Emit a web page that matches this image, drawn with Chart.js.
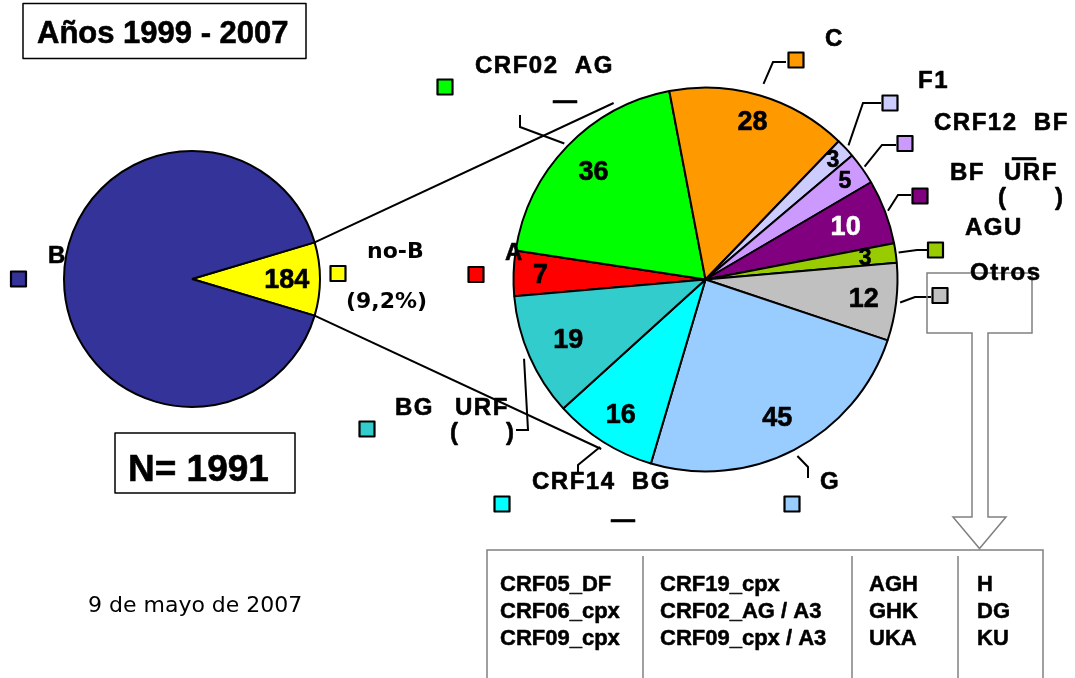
<!DOCTYPE html>
<html><head><meta charset="utf-8">
<script src="https://cdn.jsdelivr.net/npm/chart.js@4.4.1/dist/chart.umd.min.js"></script>
<style>
html,body{margin:0;padding:0;background:#fff;}
#wrap{position:relative;width:1075px;height:678px;overflow:hidden;background:#fff;}
#wrap canvas{position:absolute;left:0;top:0;}
</style></head><body>
<div id="wrap"><canvas id="left" width="1075" height="678"></canvas><canvas id="right" width="1075" height="678"></canvas></div>
<script>
// ---------- data ----------
const leftLabels = ['no-B', 'B'];
const leftValues = [184, 1807];
const rightLabels = ['A', 'CRF02_AG', 'C', 'F1', 'CRF12_BF', 'BF (URF)', 'AGU', 'Otros', 'G', 'CRF14_BG', 'BG (URF)'];
const rightValues = [7, 36, 28, 3, 5, 10, 3, 12, 45, 16, 19];
const otrosCol1 = ['CRF05_DF', 'CRF06_cpx', 'CRF09_cpx'];
const otrosCol2 = ['CRF19_cpx', 'CRF02_AG / A3', 'CRF09_cpx / A3'];
const otrosCol3 = ['AGH', 'GHK', 'UKA'];
const otrosCol4 = ['H', 'DG', 'KU'];
const titleText = 'Años 1999 - 2007';
const totalText = 'N= 1991';
const dateText = '9 de mayo de 2007';
const noBPercent = '(9,2%)';

// ---------- styles / layout ----------
const leftColors = ['#FFFF00', '#333399'];
const rightColors = ['#FF0000', '#00FF00', '#FF9900', '#CCCCFF', '#CC99FF', '#800080', '#99CC00', '#C0C0C0', '#99CCFF', '#00FFFF', '#33CCCC'];
const AR = '"Liberation Sans", Arial, sans-serif';
const VE = '"DejaVu Sans", Verdana, sans-serif';
const valFrac = [0.86, 0.81, 0.86, 0.91, 0.89, 0.78, 0.84, 0.83, 0.81, 0.83, 0.78];
const valSize = [27, 27, 27, 23, 23, 27, 23, 27, 27, 27, 27];
const valColor = ['#000', '#000', '#000', '#000', '#000', '#fff', '#000', '#000', '#000', '#000', '#000'];
const sqPos = [[476, 274.5], [445, 87], [796, 60], [890, 103], [905, 143.5], [920, 196], [935.5, 250], [940, 295.5], [792, 504], [502, 504], [367, 429]];
const leaders = [null,
  {d: 4, pts: [[520, 127], [520, 115]]},
  {d: 12, pts: [[773, 62], [786, 62]]},
  {d: 4, pts: [[863, 103], [881, 103]]},
  {d: 3, pts: [[882, 145], [896, 145]]},
  {d: 3, pts: [[898, 195], [911, 195]]},
  {d: 3, pts: [[917, 250], [927, 250]]},
  {d: 4, pts: [[915, 297], [931, 297]]},
  {d: 7, pts: [[808, 467], [808, 478]]},
  {d: 6, pts: [[578, 465], [578, 473]]},
  {d: 6, pts: [[528, 430], [516, 430]]}
];
const labelPieces = [
  ['A', 505, 260], ['CRF02  AG', 475, 73], ['—', 553, 108], ['C', 825, 46], ['F1', 918, 87.5],
  ['CRF12  BF', 934, 129.5], ['BF', 950, 180], ['URF', 1004, 180], ['—', 1012, 165], ['(', 998, 205], [')', 1055, 205],
  ['AGU', 965, 235], ['Otros', 970, 280], ['G', 820, 489], ['CRF14  BG', 532, 489], ['—', 611, 526.5],
  ['BG', 395, 415], ['URF', 455, 415], ['(', 450, 440], [')', 506, 440]
];
const connAngles = [332.5, 211.6];

function sq(ctx, cx, cy, color) {
  ctx.fillStyle = color; ctx.fillRect(cx - 7.5, cy - 7.5, 15, 15);
  ctx.strokeStyle = '#000'; ctx.lineWidth = 2.2; ctx.strokeRect(cx - 7.5, cy - 7.5, 15, 15);
}
function mid(a) { return (a.startAngle + a.endAngle) / 2; }
function heavy(ctx, t, x, y, w) {
  ctx.lineWidth = w; ctx.strokeStyle = ctx.fillStyle; ctx.lineJoin = 'round';
  ctx.strokeText(t, x, y); ctx.fillText(t, x, y);
}

let leftChart;

const leftPlugin = {
  id: 'leftDeco',
  afterDatasetsDraw(chart) {
    const ctx = chart.ctx; const arc = chart.getDatasetMeta(0).data[0];
    const m = mid(arc), r = arc.outerRadius * 0.74;
    ctx.save();
    ctx.font = 'bold 27px ' + AR; ctx.fillStyle = '#000'; ctx.textAlign = 'center'; ctx.textBaseline = 'middle';
    heavy(ctx, String(leftValues[0]), arc.x + r * Math.cos(m), arc.y + r * Math.sin(m) + 2, 0.6);
    ctx.restore();
  }
};

const rightPlugin = {
  id: 'rightDeco',
  beforeDatasetsDraw(chart) {
    const ctx = chart.ctx; const la = leftChart.getDatasetMeta(0).data[0];
    const ra = chart.getDatasetMeta(0).data[0];
    const R = ra.outerRadius + 7;
    const corners = [la.startAngle, la.endAngle];
    ctx.save(); ctx.strokeStyle = '#000'; ctx.lineWidth = 2;
    corners.forEach((a, i) => {
      const x0 = la.x + la.outerRadius * Math.cos(a), y0 = la.y + la.outerRadius * Math.sin(a);
      const t = (connAngles[i] - 90) * Math.PI / 180;
      ctx.beginPath(); ctx.moveTo(x0, y0); ctx.lineTo(ra.x + R * Math.cos(t), ra.y + R * Math.sin(t)); ctx.stroke();
    });
    ctx.restore();
  },
  afterDatasetsDraw(chart) {
    const ctx = chart.ctx; const arcs = chart.getDatasetMeta(0).data;
    ctx.save();
    ctx.textAlign = 'center'; ctx.textBaseline = 'middle';
    arcs.forEach((a, i) => {
      const m = mid(a), r = a.outerRadius * valFrac[i];
      ctx.font = 'bold ' + valSize[i] + 'px ' + AR; ctx.fillStyle = valColor[i];
      heavy(ctx, String(rightValues[i]), a.x + r * Math.cos(m), a.y + r * Math.sin(m) + 1, 0.6);
    });
    ctx.strokeStyle = '#000'; ctx.lineWidth = 2; ctx.lineJoin = 'miter';
    arcs.forEach((a, i) => {
      const L = leaders[i]; if (!L) return;
      const m = mid(a), r = a.outerRadius + L.d;
      ctx.beginPath(); ctx.moveTo(a.x + r * Math.cos(m), a.y + r * Math.sin(m));
      L.pts.forEach(p => ctx.lineTo(p[0], p[1])); ctx.stroke();
    });
    ctx.strokeStyle = '#808080'; ctx.lineWidth = 1.5;
    ctx.beginPath();
    [[927, 273], [1032, 273], [1032, 333], [988, 333], [988, 517], [1006, 517], [979.5, 548.5], [953, 517], [972, 517], [972, 333], [927, 333]]
      .forEach((p, k) => k ? ctx.lineTo(p[0], p[1]) : ctx.moveTo(p[0], p[1]));
    ctx.closePath(); ctx.stroke();
    ctx.fillStyle = '#fff'; ctx.fillRect(487, 550, 556, 140);
    ctx.strokeRect(487, 550, 556, 150);
    [643, 852, 958].forEach(x => { ctx.beginPath(); ctx.moveTo(x, 556); ctx.lineTo(x, 680); ctx.stroke(); });
    ctx.fillStyle = '#000'; ctx.textAlign = 'left'; ctx.textBaseline = 'alphabetic';
    ctx.font = 'bold 22px ' + AR;
    const cols = [otrosCol1, otrosCol2, otrosCol3, otrosCol4], colX = [500, 660, 869, 977], rowY = [591, 618, 645];
    cols.forEach((c, ci) => c.forEach((t, ri) => heavy(ctx, t, colX[ci], rowY[ri], 0.5)));
    arcs.forEach((a, i) => sq(ctx, sqPos[i][0], sqPos[i][1], rightColors[i]));
    sq(ctx, 18.5, 279, leftColors[1]);
    sq(ctx, 338, 273.5, leftColors[0]);
    ctx.fillStyle = '#000'; ctx.font = 'bold 24px ' + AR; ctx.letterSpacing = '1.5px';
    labelPieces.forEach(p => heavy(ctx, p[0], p[1], p[2], 0.6));
    ctx.letterSpacing = '0px';
    heavy(ctx, leftLabels[1], 48, 263, 0.6);
    ctx.font = 'bold 22px ' + VE;
    ctx.fillText(leftLabels[0], 367, 258);
    ctx.fillText(noBPercent, 346, 308);
    ctx.lineWidth = 1.5; ctx.strokeStyle = '#000';
    ctx.strokeRect(23, 3.5, 283, 55);
    ctx.font = 'bold 31px ' + AR; heavy(ctx, titleText, 37, 43, 0.6);
    ctx.lineWidth = 1.5; ctx.strokeStyle = '#000';
    ctx.strokeRect(115, 433, 180, 60);
    ctx.font = 'bold 37px ' + AR; heavy(ctx, totalText, 128, 481, 0.6);
    ctx.font = '22px ' + VE; ctx.fillText(dateText, 88, 612);
    ctx.restore();
  }
};

leftChart = new Chart(document.getElementById('left'), {
  type: 'pie',
  data: {labels: leftLabels, datasets: [{data: leftValues, backgroundColor: leftColors, borderColor: '#000', borderWidth: 2}]},
  options: {
    responsive: false, animation: false, radius: 128,
    rotation: 90 - (leftValues[0] / (leftValues[0] + leftValues[1]) * 360) / 2,
    layout: {padding: {left: 64, top: 151, right: 755, bottom: 271}},
    plugins: {legend: {display: false}, tooltip: {enabled: false}}
  },
  plugins: [leftPlugin]
});

new Chart(document.getElementById('right'), {
  type: 'pie',
  data: {labels: rightLabels, datasets: [{data: rightValues, backgroundColor: rightColors, borderColor: '#000', borderWidth: 2}]},
  options: {
    responsive: false, animation: false, radius: 192, rotation: 265,
    layout: {padding: {left: 513.5, top: 87.5, right: 177.5, bottom: 206.5}},
    plugins: {legend: {display: false}, tooltip: {enabled: false}}
  },
  plugins: [rightPlugin]
});
</script>
</body></html>
